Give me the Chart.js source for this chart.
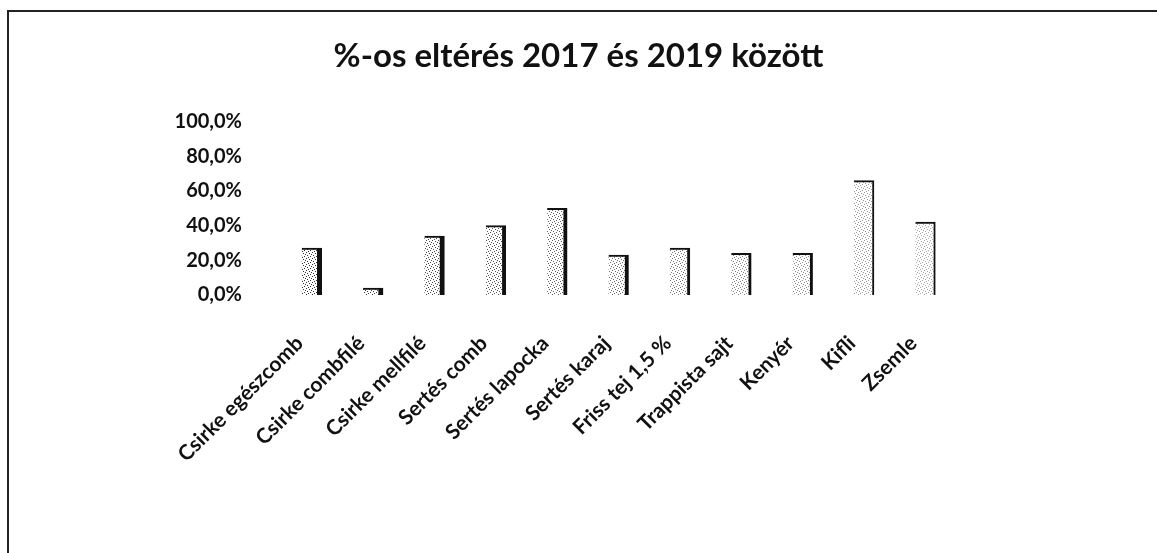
<!DOCTYPE html>
<html>
<head>
<meta charset="utf-8">
<script src="https://cdn.jsdelivr.net/npm/chart.js@4/dist/chart.umd.min.js"></script>
<style>
  html, body { margin: 0; padding: 0; background: #fff; }
  #wrap { width: 1157px; height: 553px; }
</style>
</head>
<body>
<div id="wrap"><canvas id="grafico"></canvas></div>
<script>
// adatok (becslés)
const kategoriak = [
  "Csirke egészcomb", "Csirke combfilé", "Csirke mellfilé", "Sertés comb",
  "Sertés lapocka", "Sertés karaj", "Friss tej 1,5 %", "Trappista sajt",
  "Kenyér", "Kifli", "Zsemle"
];
const elteres = [27, 4, 34, 40, 50, 23, 27, 24, 24, 66, 42];
const cimSzoveg = "%-os eltérés 2017 és 2019 között";

// a bal felső keret
const keret = {
  id: "keret",
  afterDraw(chart) {
    const ctx = chart.ctx;
    ctx.save();
    ctx.strokeStyle = "#222";
    ctx.lineWidth = 2;
    ctx.strokeRect(8, 11, 1160, 560);
    ctx.restore();
  }
};

// pöttyös minta az oszlopok elejére
function minta(suruseg) {
  const c = document.createElement("canvas");
  c.width = 6; c.height = 6;
  const g = c.getContext("2d");
  g.fillStyle = "#fff";
  g.fillRect(0, 0, 6, 6);
  g.fillStyle = "rgba(0,0,0," + suruseg + ")";
  [[0,0],[3,1],[1,3],[4,4],[2,5],[5,2]].forEach(p => g.fillRect(p[0], p[1], 1, 1));
  return g.createPattern(c, "repeat");
}

const kitoltes = kategoriak.map((k, i) => minta(0.8 - i * 0.045));
const elVastag = kategoriak.map((k, i) => Math.max(2, 5 - Math.floor(i / 3)));

new Chart(document.getElementById("grafico"), {
  type: "bar",
  data: {
    labels: kategoriak,
    datasets: [{
      data: elteres,
      backgroundColor: kitoltes,
      borderColor: "#111",
      borderWidth: ctx => ({ top: 2, right: elVastag[ctx.dataIndex], left: 0, bottom: 0 }),
      borderSkipped: false,
      barThickness: 20
    }]
  },
  options: {
    responsive: true,
    maintainAspectRatio: false,
    animation: false,
    layout: { padding: 0 },
    plugins: {
      legend: { display: false },
      tooltip: { enabled: false },
      title: {
        display: true,
        text: cimSzoveg,
        color: "#111",
        font: { family: "Lato", size: 33, weight: "bold" },
        padding: { top: 37, bottom: 45 }
      }
    },
    scales: {
      y: {
        min: 0,
        max: 100,
        ticks: {
          stepSize: 20,
          padding: 31,
          color: "#111",
          font: { family: "Lato", size: 20, weight: "bold" },
          callback: v => v.toFixed(1).replace(".", ",") + "%"
        },
        grid: { display: false },
        border: { display: false },
        afterFit: s => { s.width = 281; }
      },
      jobb: {
        position: "right",
        min: 0,
        max: 100,
        ticks: { display: false },
        grid: { display: false },
        border: { display: false },
        afterFit: s => { s.width = 201; }
      },
      x: {
        ticks: {
          minRotation: 45,
          maxRotation: 45,
          padding: 28,
          labelOffset: -12,
          color: "#111",
          font: { family: "Lato", size: 21, weight: "bold" }
        },
        grid: { display: false },
        border: { display: false },
        afterFit: s => { s.height = 258; }
      }
    }
  },
  plugins: [keret]
});
</script>
</body>
</html>
